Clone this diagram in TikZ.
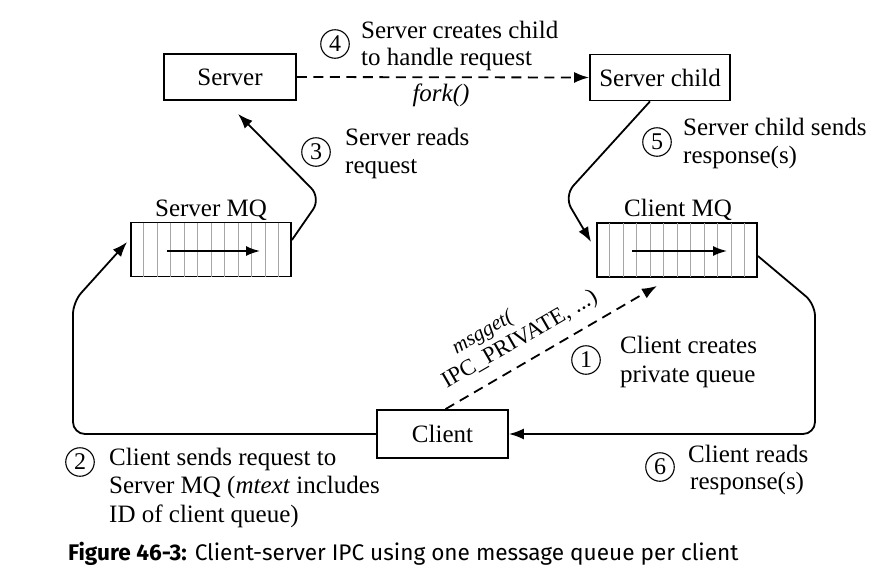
\documentclass[tikz,border=0pt]{standalone}
\usepackage{fontspec}
\setmainfont{Liberation Serif}
\newfontfamily\capfont{Fira Sans}
\usepackage{graphicx}
\usetikzlibrary{arrows.meta,calc}
\newcommand{\qstripes}[1]{%
  \foreach \i in {1,...,11}{%
    \draw[stripe] ($(#1.north west)!\i/12!(#1.north east)$) -- ($(#1.south west)!\i/12!(#1.south east)$);}}
\begin{document}
\begin{tikzpicture}[x=1pt,y=-1pt,
  every node/.style={inner sep=0pt},
  txt/.style={font=\fontsize{25}{28}\selectfont},
  procbox/.style={draw, line width=1.8pt, minimum width=#1, minimum height=46pt, txt},
  queue/.style={draw, line width=1.8pt, minimum width=160pt, minimum height=54pt},
  stripe/.style={gray!70, line width=0.7pt, shorten <=0.9pt, shorten >=0.9pt},
  lbl/.style={anchor=base west, txt},
  num/.style={circle, draw, line width=1.1pt, minimum size=28.5pt, font=\fontsize{24}{24}\selectfont},
  conn/.style={line width=1.8pt, -{Latex[length=15pt,width=11pt]}},
  dashconn/.style={conn, dash pattern=on 10pt off 6.5pt},
  inarrow/.style={line width=1.8pt, -{Latex[length=14pt,width=10pt]}}]
\useasboundingbox (0,0) rectangle (889,568);

% process boxes
\node[procbox=132pt] (server) at (230,77) {Server};
\node[procbox=140pt] (child) at (660,77.5) {Server child};
\node[procbox=131pt, minimum height=48pt] (client) at (442.5,434) {Client};

% queues
\node[queue] (smq) at (211,249.5) {};
\node[queue] (cmq) at (677,250) {};
\qstripes{smq}
\qstripes{cmq}
\draw[inarrow] ([xshift=-44pt,yshift=-1.5pt]smq.center) -- ([xshift=49pt,yshift=-1.5pt]smq.center);
\draw[inarrow] ([xshift=-45pt,yshift=-1pt]cmq.center) -- ([xshift=50pt,yshift=-1pt]cmq.center);
\node[lbl, anchor=base] (smql) at (211,216) {Server MQ};
\node[lbl, anchor=base] (cmql) at (678,216) {Client MQ};

% connectors
\draw[dashconn] (server.east) -- (child.west);
\node[txt, anchor=base] (fork) at (441,101) {\itshape fork()};

\draw[conn, rounded corners=14pt] ([yshift=9.5pt]smq.east) -- (321,198) -- ([xshift=8pt,yshift=-13pt]server.south);
\draw[conn, rounded corners=14pt] ([xshift=-10pt]child.south) -- (564,196) -- ([xshift=-5pt,yshift=8pt]cmq.west);
\draw[conn, rounded corners=12pt] ([yshift=-6pt]cmq.east) -- (815,304) -- (815,434) -- (client.east);
\draw[conn, rounded corners=12pt] (client.west) -- (73,434) -- (73,302) -- ([xshift=-3pt,yshift=7.5pt]smq.west);
\draw[dashconn] ([xshift=3pt]client.north) -- ([xshift=-20pt,yshift=-8pt]cmq.south);
\node[txt, rotate=30, font=\fontsize{21}{21}\selectfont\itshape] (mg) at (483,333) {msgget(};
\node[txt, rotate=30, font=\fontsize{23}{23}\selectfont] (ipc) at (520,340) {IPC\_PRIVATE, ...)};

% step labels
\node[num] (n4) at (335,44) {4};
\node[lbl] (t4a) at (361,38) {Server creates child};
\node[lbl] (t4b) at (361,65) {to handle request};

\node[num] (n3) at (316,152) {3};
\node[lbl] (t3a) at (345,145.5) {Server reads};
\node[lbl] (t3b) at (345,173.5) {request};

\node[num] (n5) at (657,142) {5};
\node[lbl] (t5a) at (683,135) {Server child sends};
\node[lbl] (t5b) at (683,163) {response(s)};

\node[num] (n1) at (586,360) {1};
\node[lbl] (t1a) at (620,353) {Client creates};
\node[lbl] (t1b) at (620,382) {private queue};

\node[num] (n6) at (660,467) {6};
\node[lbl] (t6a) at (688,462) {Client reads};
\node[lbl] (t6b) at (690,489) {response(s)};

\node[num] (n2) at (80,462) {2};
\node[lbl] (t2a) at (109,465) {Client sends request to};
\node[lbl] (t2b) at (109,493) {Server MQ (\textit{mtext} includes};
\node[lbl] (t2c) at (109,522) {ID of client queue)};

% caption
\node[anchor=base west, font=\capfont\fontsize{22.6}{23}\selectfont] (cap) at (68,560) {\textbf{Figure 46-3:} Client-server IPC using one message queue per client};
\end{tikzpicture}
\end{document}
